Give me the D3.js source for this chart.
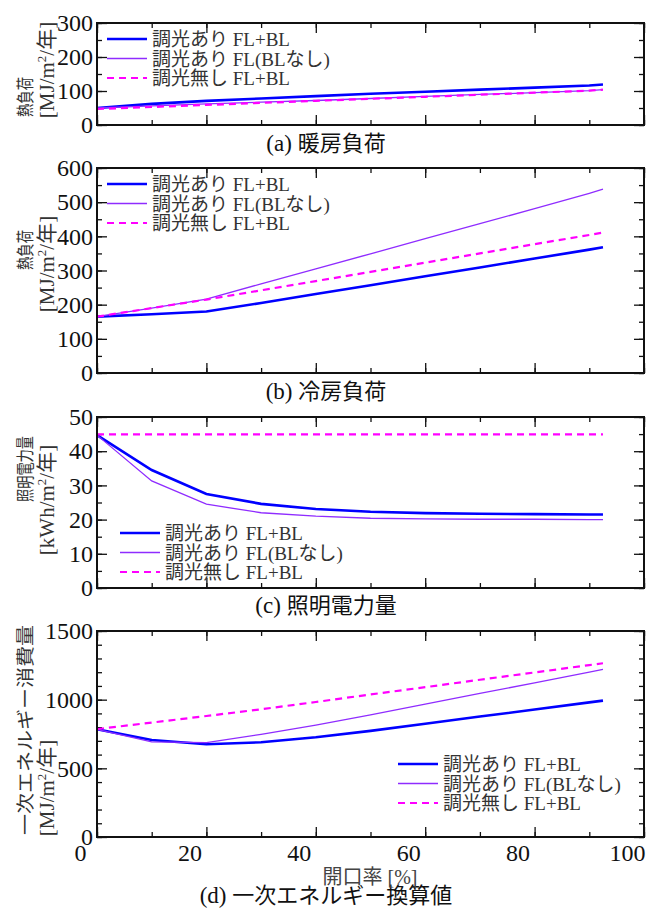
<!DOCTYPE html>
<html>
<head>
<meta charset="utf-8">
<script src="https://cdn.jsdelivr.net/npm/d3@7"></script>
<style>
  body { margin: 0; background: #fff; }
</style>
</head>
<body>
<svg id="chart" width="658" height="910"></svg>
<script>
// aperture ratio [%]
const xPct = [0, 10, 20, 30, 40, 50, 60, 70, 80, 90, 92.5];
const seriesNames = ["調光あり FL+BL", "調光あり FL(BLなし)", "調光無し FL+BL"];
const xTicks = [0, 20, 40, 60, 80, 100];

// (a) heating load [MJ/m2/year]
const heatDimBL   = [50, 62, 71, 78, 85, 92, 98, 104, 110, 116, 119];
const heatDimNoBL = [50, 56, 62, 67, 72, 78, 84, 90, 95, 101, 104];
const heatNoDim   = [47, 53, 59, 65, 71, 77, 83, 89, 95, 101, 104];

// (b) cooling load [MJ/m2/year]
const coolDimBL   = [165, 172, 180, 205, 231, 257, 283, 309, 335, 361, 368];
const coolDimNoBL = [165, 190, 216, 261, 305, 349, 393, 437, 481, 526, 538];
const coolNoDim   = [165, 190, 215, 242, 269, 296, 323, 350, 377, 404, 411];

// (c) lighting electricity [kWh/m2/year]
const lightDimBL   = [44.7, 34.5, 27.5, 24.6, 23.1, 22.3, 21.9, 21.7, 21.6, 21.5, 21.5];
const lightDimNoBL = [44.7, 31.3, 24.5, 22.0, 21.0, 20.4, 20.2, 20.1, 20.1, 20.0, 20.0];
const lightNoDim   = [44.9, 44.9, 44.9, 44.9, 44.9, 44.9, 44.9, 44.9, 44.9, 44.9, 44.9];

// (d) primary energy [MJ/m2/year]
const primDimBL   = [784, 706, 675, 690, 726, 773, 825, 877, 928, 980, 993];
const primDimNoBL = [784, 692, 687, 748, 814, 889, 967, 1045, 1123, 1201, 1221];
const primNoDim   = [786, 833, 881, 930, 983, 1038, 1091, 1145, 1198, 1252, 1265];

const svg = d3.select("#chart");
const serif = '"Liberation Serif", "Noto Sans CJK JP", serif';
const numFont = '"Liberation Serif", "Times New Roman", serif';
const sans = '"Noto Sans CJK JP", "Noto Sans", sans-serif';

const x = d3.scaleLinear().domain([0, 100]).range([97, 644]);

const lineStyles = [
  { color: "#0000ff", width: 2.6, dash: null },
  { color: "#8f2cff", width: 1.3, dash: null },
  { color: "#ff00ff", width: 2.2, dash: "7,5" }
];

const panels = [
  { top: 23, bottom: 125, max: 300, major: 100, minor: 50,
    data: [heatDimBL, heatDimNoBL, heatNoDim],
    legend: { x: 107, y: 39 },
    cap: ["(a) ", "暖房負荷"], capY: 151,
    t1: "熱負荷", t1y: 97, t1fs: 18, t1len: 40, t2: ["[MJ/m", "2", "/年]"], t2y: 70 },
  { top: 168, bottom: 373, max: 600, major: 100, minor: 50,
    data: [coolDimBL, coolDimNoBL, coolNoDim],
    legend: { x: 107, y: 184 },
    cap: ["(b) ", "冷房負荷"], capY: 399,
    t1: "熱負荷", t1y: 250, t1fs: 18, t1len: 40, t2: ["[MJ/m", "2", "/年]"], t2y: 264 },
  { top: 417, bottom: 588, max: 50, major: 10, minor: 5,
    data: [lightDimBL, lightDimNoBL, lightNoDim],
    legend: { x: 120, y: 533 },
    cap: ["(c) ", "照明電力量"], capY: 613,
    t1: "照明電力量", t1y: 469, t1fs: 18, t1len: 66, t2: ["[kWh/m", "2", "/年]"], t2y: 500 },
  { top: 631, bottom: 837, max: 1500, major: 500, minor: 100,
    data: [primDimBL, primDimNoBL, primNoDim],
    legend: { x: 398, y: 764 },
    cap: ["(d) ", "一次エネルギー換算値"], capY: 903,
    t1: "一次エネルギー消費量", t1y: 730, t1fs: 18, t1len: 210, t2: ["[MJ/m", "2", "/年]"], t2y: 788,
    xLabels: true }
];

panels.forEach(p => {
  const y = d3.scaleLinear().domain([0, p.max]).range([p.bottom, p.top]);
  const g = svg.append("g");
  const minorY = d3.range(0, p.max + 0.001, p.minor);
  const majorY = d3.range(0, p.max + 0.001, p.major);
  const minorX = d3.range(0, 100.001, 10);

  // minor ticks, all four sides
  g.append("g").attr("transform", `translate(${x(0)},0)`)
    .call(d3.axisLeft(y).tickValues(minorY).tickSize(-5).tickFormat(""));
  g.append("g").attr("transform", `translate(${x(100)},0)`)
    .call(d3.axisRight(y).tickValues(minorY).tickSize(-5).tickFormat(""));
  g.append("g").attr("transform", `translate(0,${p.top})`)
    .call(d3.axisTop(x).tickValues(minorX).tickSize(-5).tickFormat(""));
  g.append("g").attr("transform", `translate(0,${p.bottom})`)
    .call(d3.axisBottom(x).tickValues(minorX).tickSize(-5).tickFormat(""));

  // major ticks
  const yAxis = g.append("g").attr("transform", `translate(${x(0)},0)`)
    .call(d3.axisLeft(y).tickValues(majorY).tickSize(-10).tickPadding(4).tickFormat(d3.format("d")));
  g.append("g").attr("transform", `translate(${x(100)},0)`)
    .call(d3.axisRight(y).tickValues(majorY).tickSize(-10).tickFormat(""));
  g.append("g").attr("transform", `translate(0,${p.top})`)
    .call(d3.axisTop(x).tickValues(xTicks).tickSize(-10).tickFormat(""));
  const xAxis = g.append("g").attr("transform", `translate(0,${p.bottom})`)
    .call(d3.axisBottom(x).tickValues(xTicks).tickSize(-10).tickPadding(7)
      .tickFormat(p.xLabels ? d3.format("d") : ""));

  g.selectAll(".domain").remove();
  g.selectAll(".tick line").attr("stroke", "#111").attr("stroke-width", 1.3);
  yAxis.selectAll("text").attr("font-family", numFont).attr("font-size", 24).attr("fill", "#111");
  if (p.xLabels) {
    xAxis.selectAll("text").attr("font-family", numFont).attr("font-size", 24)
      .attr("fill", "#111").attr("dx", -17);
  }

  // lines
  const line = d3.line().x((d, i) => x(xPct[i])).y(d => y(d));
  p.data.forEach((vals, k) => {
    const s = lineStyles[k];
    g.append("path").datum(vals)
      .attr("d", line)
      .attr("fill", "none")
      .attr("stroke", s.color)
      .attr("stroke-width", s.width)
      .attr("stroke-dasharray", s.dash);
  });

  // frame
  g.append("rect")
    .attr("x", x(0)).attr("y", p.top)
    .attr("width", x(100) - x(0)).attr("height", p.bottom - p.top)
    .attr("fill", "none").attr("stroke", "#111").attr("stroke-width", 2);

  // legend
  seriesNames.forEach((name, k) => {
    const s = lineStyles[k];
    const ly = p.legend.y + k * 19.5;
    g.append("line")
      .attr("x1", p.legend.x).attr("x2", p.legend.x + 40)
      .attr("y1", ly).attr("y2", ly)
      .attr("stroke", s.color).attr("stroke-width", s.width)
      .attr("stroke-dasharray", s.dash);
    g.append("text")
      .attr("x", p.legend.x + 45).attr("y", ly + 7)
      .attr("font-family", serif).attr("font-size", 19)
      .attr("fill", "#333")
      .text(name);
  });

  // caption
  const cap = g.append("text")
    .attr("x", 326).attr("y", p.capY)
    .attr("text-anchor", "middle")
    .attr("fill", "#111");
  cap.append("tspan").attr("font-family", numFont).attr("font-size", 23).text(p.cap[0]);
  cap.append("tspan").attr("font-family", sans).attr("font-size", 22).text(p.cap[1]);

  // y title
  g.append("text")
    .attr("transform", `translate(32,${p.t1y}) rotate(-90)`)
    .attr("text-anchor", "middle")
    .attr("font-family", sans).attr("font-size", p.t1fs)
    .attr("textLength", p.t1len).attr("lengthAdjust", "spacingAndGlyphs")
    .attr("fill", "#333")
    .text(p.t1);
  const t2 = g.append("text")
    .attr("transform", `translate(54,${p.t2y}) rotate(-90)`)
    .attr("text-anchor", "middle")
    .attr("font-family", serif).attr("font-size", 21)
    .attr("fill", "#333");
  t2.append("tspan").text(p.t2[0]);
  t2.append("tspan").attr("dy", -8).attr("font-size", 13).text(p.t2[1]);
  t2.append("tspan").attr("dy", 8).text(p.t2[2]);
});

// x title
svg.append("text")
  .attr("x", 370).attr("y", 884)
  .attr("text-anchor", "middle")
  .attr("font-family", serif).attr("font-size", 20)
  .attr("fill", "#444")
  .text("開口率 [%]");
</script>
</body>
</html>
